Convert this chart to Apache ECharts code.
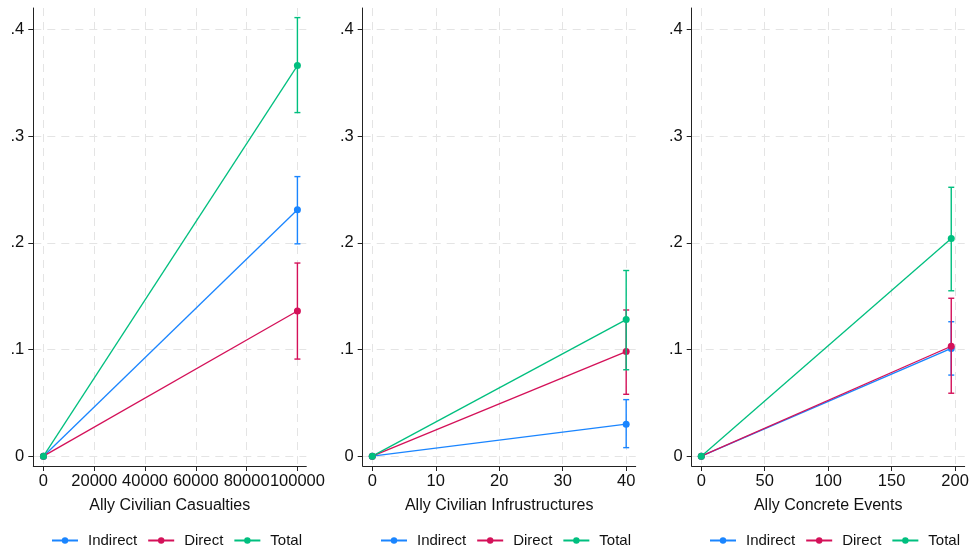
<!DOCTYPE html>
<html>
<head>
<meta charset="utf-8">
<script src="https://cdn.jsdelivr.net/npm/echarts@6/dist/echarts.min.js"></script>
<style>html,body{margin:0;padding:0;background:#fff}#c{width:972px;height:551px}</style>
</head>
<body>
<div id="c"></div>
<script>
// ---- data ----
const seriesNames = ['Indirect', 'Direct', 'Total'];
const xTitles = ['Ally Civilian Casualties', 'Ally Civilian Infrustructures', 'Ally Concrete Events'];
const xValues = [[0, 100000], [0, 40], [0, 197]];
const xTicks = [
  [0, 20000, 40000, 60000, 80000, 100000],
  [0, 10, 20, 30, 40],
  [0, 50, 100, 150, 200]
];
const yTicks = [0, 0.1, 0.2, 0.3, 0.4];
// estimates per panel, [at 0, at max]
const indirectY = [[0, 0.231], [0, 0.030], [0, 0.101]];
const directY   = [[0, 0.136], [0, 0.098], [0, 0.103]];
const totalY    = [[0, 0.366], [0, 0.128], [0, 0.204]];
// confidence interval bounds at the end point, per panel
const indirectLo = [0.199, 0.008, 0.076];
const indirectHi = [0.262, 0.053, 0.126];
const directLo   = [0.091, 0.058, 0.059];
const directHi   = [0.181, 0.137, 0.148];
const totalLo    = [0.322, 0.081, 0.155];
const totalHi    = [0.411, 0.174, 0.252];

// ---- layout / style ----
const colors = ['#1a85ff', '#d41159', '#00bf7f'];
const xRanges = [[-4000, 103500], [-1.51, 41.5], [-7.56, 207.6]];
const gridLefts = [33.3, 362.7, 691.7];
const gridWidth = 273;
const legendLefts = [46, 375, 704];
const FONT = '"Liberation Sans", Arial, Helvetica, sans-serif';

const grids = [], xAxes = [], yAxes = [], series = [], legends = [];
const estimates = [indirectY, directY, totalY];
const los = [indirectLo, directLo, totalLo];
const his = [indirectHi, directHi, totalHi];

for (let p = 0; p < 3; p++) {
  grids.push({left: gridLefts[p], top: 8, width: gridWidth, height: 458, containLabel: false});
  const gridLine = {show: true, lineStyle: {color: '#e4e4e4', width: 1, type: [8, 6]}};
  xAxes.push({
    type: 'value', gridIndex: p, min: xRanges[p][0], max: xRanges[p][1],
    name: xTitles[p], nameLocation: 'middle', nameGap: 32,
    nameTextStyle: {fontSize: 16, color: '#111', fontFamily: FONT},
    axisLine: {show: true, onZero: false, lineStyle: {color: '#222', width: 1}},
    axisTick: {show: true, length: 5, customValues: xTicks[p], lineStyle: {color: '#222'}},
    axisLabel: {customValues: xTicks[p], fontSize: 16.5, color: '#111', margin: 7, fontFamily: FONT,
      formatter: v => String(v), showMinLabel: true, showMaxLabel: true},
    splitLine: gridLine
  });
  yAxes.push({
    type: 'value', gridIndex: p, min: -0.0092, max: 0.42,
    axisLine: {show: true, onZero: false, lineStyle: {color: '#222', width: 1}},
    axisTick: {show: true, length: 5, customValues: yTicks, lineStyle: {color: '#222'}},
    axisLabel: {customValues: yTicks, fontSize: 16.5, color: '#111', margin: 9, fontFamily: FONT,
      formatter: v => v === 0 ? '0' : v.toFixed(1).replace(/^0/, '')},
    splitLine: gridLine
  });
  for (let s = 0; s < 3; s++) {
    const pts = xValues[p].map((x, i) => [x, estimates[s][p][i]]);
    series.push({
      type: 'line', name: seriesNames[s], xAxisIndex: p, yAxisIndex: p,
      data: pts, symbol: 'circle', symbolSize: 7, color: colors[s],
      lineStyle: {width: 1.3, color: colors[s]}, itemStyle: {color: colors[s]},
      animation: false, z: 3 + s
    });
    series.push({
      type: 'custom', name: seriesNames[s] + ' CI', xAxisIndex: p, yAxisIndex: p,
      data: [[xValues[p][1], los[s][p], his[s][p]]],
      encode: {x: 0, y: [1, 2]}, z: 3 + s, animation: false,
      renderItem: (params, api) => {
        const lo = api.coord([api.value(0), api.value(1)]);
        const hi = api.coord([api.value(0), api.value(2)]);
        const hw = 3;
        const st = {stroke: colors[s], lineWidth: 1.4};
        return {type: 'group', children: [
          {type: 'line', shape: {x1: lo[0], y1: lo[1], x2: hi[0], y2: hi[1]}, style: st},
          {type: 'line', shape: {x1: lo[0] - hw, y1: lo[1], x2: lo[0] + hw, y2: lo[1]}, style: st},
          {type: 'line', shape: {x1: hi[0] - hw, y1: hi[1], x2: hi[0] + hw, y2: hi[1]}, style: st}
        ]};
      }
    });
  }
  legends.push({
    data: seriesNames, left: legendLefts[p], top: 528, orient: 'horizontal',
    itemWidth: 26, itemHeight: 8, itemGap: 10,
    textStyle: {fontSize: 15, color: '#111', fontFamily: FONT, padding: [0, 0, 0, 5]}
  });
}

const chart = echarts.init(document.getElementById('c'), null, {renderer: 'canvas'});
chart.setOption({
  backgroundColor: '#ffffff',
  animation: false,
  textStyle: {fontFamily: FONT},
  grid: grids, xAxis: xAxes, yAxis: yAxes, legend: legends, series: series
});
</script>
</body>
</html>
